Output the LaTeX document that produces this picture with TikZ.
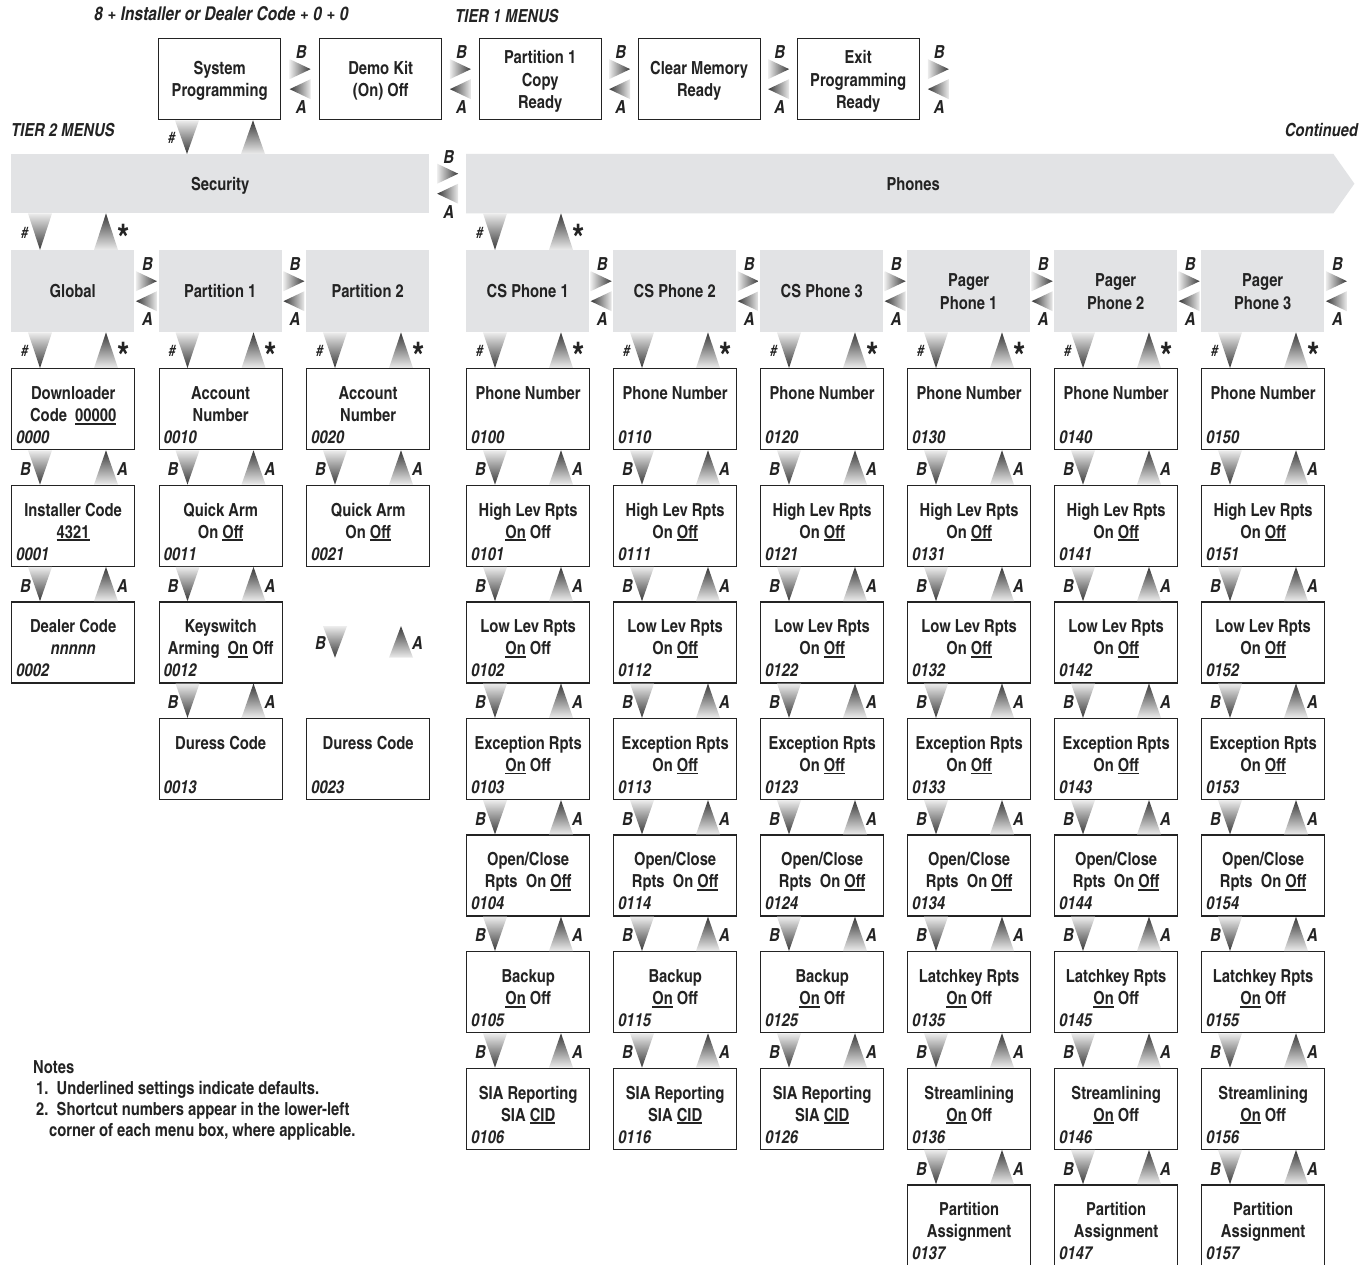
\documentclass[tikz,border=0pt]{standalone}
\usepackage{fontspec}
\IfFontExistsTF{texgyreheroscn-bold.otf}{%
\setmainfont{texgyreheroscn}[Extension=.otf, UprightFont=*-bold, ItalicFont=*-bolditalic, BoldFont=*-bold, BoldItalicFont=*-bolditalic]}{%
\setmainfont{TeX Gyre Heros}[UprightFont=* Bold, ItalicFont=* Bold Italic, FakeStretch=0.82]}
\usetikzlibrary{calc}
\definecolor{boxgray}{RGB}{226,227,229}
\definecolor{lite}{RGB}{236,236,236}
\definecolor{dark}{RGB}{55,55,55}
\definecolor{ink}{RGB}{35,35,35}
\newcounter{lc}
\newcommand\dflt[1]{\leavevmode\setbox0\hbox{#1}\rlap{\rule[-3pt]{\wd0}{1.7pt}}\box0\relax}
\newcommand\Lnode[3]{\stepcounter{lc}\node[#1] (L\arabic{lc}) at (#2) {#3};}
% detail box: name, x-left, row, line1, line2, code
\newcommand\dbox[6]{%
  \pgfmathsetmacro\yt{368+116.6*#3}%
  \node[dbox] (#1) at (#2,\yt) {};
  \node[txt] (#1-a) at ($(#1.north)+(0,31.5)$) {#4};
  \node[txt] (#1-b) at ($(#1.north)+(0,53.5)$) {#5};
  \node[code] (#1-c) at ($(#1.north west)+(5,75.5)$) {#6};
}
% vertical triangle pair: upper node, lower node, reference node for x
\newcommand\vtris[3]{%
  \coordinate (vdl) at ($(#3.south west)+(29,0)$);
  \coordinate (vdr) at ($(#3.south west)+(95,0)$);
  \coordinate (vt1) at (vdl |- #1.south);
  \coordinate (vb1) at (vdl |- #2.north);
  \coordinate (vt2) at (vdr |- #1.south);
  \coordinate (vb2) at (vdr |- #2.north);
  \shade[top color=lite, bottom color=dark] ($(vt1)+(-12,0)$) -- ($(vt1)+(12,0)$) -- (vb1) -- cycle;
  \shade[top color=dark, bottom color=lite] (vt2) -- ($(vb2)+(12,0)$) -- ($(vb2)+(-12,0)$) -- cycle;
  \coordinate (vm) at ($(vt1)!0.5!(vb1)$);
}
\newcommand\vBA[3]{\vtris{#1}{#2}{#3}%
  \Lnode{lab}{$(vm)+(-14.5,1.5)$}{B}
  \Lnode{lab}{$(vm)+(82.5,1.5)$}{A}}
\newcommand\vHS[3]{\vtris{#1}{#2}{#3}%
  \Lnode{hash}{$(vm)+(-15.5,1)$}{\#}
  \Lnode{star}{$(vm)+(83.5,6)$}{*}}
\newcommand\vH[3]{\vtris{#1}{#2}{#3}%
  \Lnode{hash}{$(vm)+(-15.5,1)$}{\#}}
% horizontal triangle pair between two points
\newcommand\hpair[2]{%
  \coordinate (hc) at ($#1!0.5!#2$);
  \shade[left color=lite, right color=dark] ($(hc)+(-10.5,-20)$) -- ($(hc)+(10.5,-10)$) -- ($(hc)+(-10.5,0)$) -- cycle;
  \shade[left color=dark, right color=lite] ($(hc)+(10.5,0)$) -- ($(hc)+(-10.5,10)$) -- ($(hc)+(10.5,20)$) -- cycle;
  \Lnode{lab}{$(hc)+(1,-27)$}{B}
  \Lnode{lab}{$(hc)+(1,28)$}{A}}
\begin{document}
\begin{tikzpicture}[x=1pt,y=-1pt,
  txt/.style={anchor=base, inner sep=0pt, font=\fontsize{18}{22}\selectfont, text=ink},
  code/.style={anchor=base west, inner sep=0pt, font=\fontsize{18}{22}\selectfont\itshape, text=ink},
  lab/.style={inner sep=0pt, font=\fontsize{18}{20}\selectfont\itshape, text=ink},
  hash/.style={inner sep=0pt, font=\fontsize{16}{18}\selectfont\itshape, text=ink},
  star/.style={inner sep=0pt, font=\fontsize{38}{38}\selectfont, text=ink},
  head/.style={anchor=base west, inner sep=0pt, font=\fontsize{19}{22}\selectfont\itshape, text=ink},
  note/.style={anchor=base west, inner sep=0pt, font=\fontsize{18}{21}\selectfont, text=ink},
  dbox/.style={draw=ink, line width=1.3pt, fill=white, minimum width=123pt, minimum height=81pt, anchor=north west, inner sep=0pt},
  tbox/.style={draw=ink, line width=1.3pt, fill=white, minimum width=122pt, minimum height=81pt, anchor=north west, inner sep=0pt},
  gbox/.style={fill=boxgray, minimum width=123pt, minimum height=82pt, anchor=north west, inner sep=0pt}]
\fill[white] (0,0) rectangle (1361,1265);
\useasboundingbox (0,0) rectangle (1361,1265);

% headings
\node[head] (hd0) at (94,21) {8 + Installer or Dealer Code + 0 + 0};
\node[head, font=\fontsize{18}{22}\selectfont\itshape] (hd1) at (455,23) {TIER 1 MENUS};
\node[head, font=\fontsize{18}{22}\selectfont\itshape] (hd2) at (11,137) {TIER 2 MENUS};
\node[head, anchor=base east, font=\fontsize{18}{22}\selectfont\itshape] (hd3) at (1358,137) {Continued};

% tier 1
\node[tbox] (sysprog) at (158,38) {};
\node[tbox] (demo) at (319,38) {};
\node[tbox] (p1copy) at (478.5,38) {};
\node[tbox] (clrmem) at (637.5,38) {};
\node[tbox] (exitp) at (796.5,38) {};
\node[txt] (sp1) at ($(sysprog.north)+(0,37)$) {System};
\node[txt] (sp2) at ($(sysprog.north)+(0,59)$) {Programming};
\node[txt] (dk1) at ($(demo.north)+(0,37)$) {Demo Kit};
\node[txt] (dk2) at ($(demo.north)+(0,59)$) {(On) Off};
\node[txt] (pc1) at ($(p1copy.north)+(0,25.5)$) {Partition 1};
\node[txt] (pc2) at ($(p1copy.north)+(0,48.5)$) {Copy};
\node[txt] (pc3) at ($(p1copy.north)+(0,70.5)$) {Ready};
\node[txt] (cm1) at ($(clrmem.north)+(0,37)$) {Clear Memory};
\node[txt] (cm2) at ($(clrmem.north)+(0,59)$) {Ready};
\node[txt] (ep1) at ($(exitp.north)+(0,25.5)$) {Exit};
\node[txt] (ep2) at ($(exitp.north)+(0,48.5)$) {Programming};
\node[txt] (ep3) at ($(exitp.north)+(0,70.5)$) {Ready};
\hpair{(sysprog.east)}{(demo.west)}
\hpair{(demo.east)}{(p1copy.west)}
\hpair{(p1copy.east)}{(clrmem.west)}
\hpair{(clrmem.east)}{(exitp.west)}
\coordinate (t1end) at ($(exitp.east)+(37,0)$);
\hpair{(exitp.east)}{(t1end)}

% tier 2 bars
\node[fill=boxgray, minimum width=418pt, minimum height=59pt, anchor=north west, inner sep=0pt] (sec) at (11,154) {};
\node[txt] (sectx) at ($(sec.center)+(0,6.5)$) {Security};
\node[minimum width=867pt, minimum height=59pt, anchor=north west, inner sep=0pt] (pho) at (466,154) {};
\fill[boxgray] (pho.north west) -- (pho.north east) -- ($(pho.east)+(21,0)$) -- (pho.south east) -- (pho.south west) -- cycle;
\node[txt] (photx) at ($(pho.center)+(13.5,6.5)$) {Phones};
\hpair{(sec.east)}{(pho.west)}
\vH{sysprog}{sec}{sysprog}

% tier 2 boxes
\foreach \c/\xl in {0/11,1/158.5,2/306,3/466,4/613,5/760,6/907,7/1054,8/1201}
  \node[gbox] (t\c) at (\xl,250) {};
\node[txt] (tx0) at ($(t0.north)+(0,47.5)$) {Global};
\node[txt] (tx1) at ($(t1.north)+(0,47.5)$) {Partition 1};
\node[txt] (tx2) at ($(t2.north)+(0,47.5)$) {Partition 2};
\node[txt] (tx3) at ($(t3.north)+(0,47.5)$) {CS Phone 1};
\node[txt] (tx4) at ($(t4.north)+(0,47.5)$) {CS Phone 2};
\node[txt] (tx5) at ($(t5.north)+(0,47.5)$) {CS Phone 3};
\foreach \c/\k in {6/1,7/2,8/3}{
  \node[txt] (txa\c) at ($(t\c.north)+(0,36.5)$) {Pager};
  \node[txt] (txb\c) at ($(t\c.north)+(0,59.5)$) {Phone \k};
}
\vHS{sec}{t0}{t0}
\vHS{pho}{t3}{t3}
\hpair{(t0.east)}{(t1.west)}
\hpair{(t1.east)}{(t2.west)}
\hpair{(t3.east)}{(t4.west)}
\hpair{(t4.east)}{(t5.west)}
\hpair{(t5.east)}{(t6.west)}
\hpair{(t6.east)}{(t7.west)}
\hpair{(t7.east)}{(t8.west)}
\coordinate (t2end) at ($(t8.east)+(24,0)$);
\hpair{(t8.east)}{(t2end)}

% Global column
\dbox{n0-0}{11}{0}{Downloader}{Code\ \ \dflt{00000}}{0000}
\dbox{n0-1}{11}{1}{Installer Code}{\dflt{4321}}{0001}
\dbox{n0-2}{11}{2}{Dealer Code}{\textit{nnnnn}}{0002}
\vHS{t0}{n0-0}{t0}
\vBA{n0-0}{n0-1}{n0-0}
\vBA{n0-1}{n0-2}{n0-1}

% Partition 1 column
\dbox{n1-0}{158.5}{0}{Account}{Number}{0010}
\dbox{n1-1}{158.5}{1}{Quick Arm}{On \dflt{Off}}{0011}
\dbox{n1-2}{158.5}{2}{Keyswitch}{Arming\ \ \dflt{On} Off}{0012}
\dbox{n1-3}{158.5}{3}{Duress Code}{}{0013}
\vHS{t1}{n1-0}{t1}
\vBA{n1-0}{n1-1}{n1-0}
\vBA{n1-1}{n1-2}{n1-1}
\vBA{n1-2}{n1-3}{n1-2}

% Partition 2 column
\dbox{n2-0}{306}{0}{Account}{Number}{0020}
\dbox{n2-1}{306}{1}{Quick Arm}{On \dflt{Off}}{0021}
\dbox{n2-3}{306}{3}{Duress Code}{}{0023}
\vHS{t2}{n2-0}{t2}
\vBA{n2-0}{n2-1}{n2-0}
\node[inner sep=0pt, minimum size=0pt] (p2top) at ($(n2-1.south west)+(0,59)$) {};
\node[inner sep=0pt, minimum size=0pt] (p2bot) at ($(n2-1.south west)+(0,91)$) {};
\vBA{p2top}{p2bot}{n2-1}

% CS phones
\foreach \c/\xl/\d in {3/466/10,4/613/11,5/760/12}{
  \ifnum\c=3 \def\hl{\dflt{On} Off}\else\def\hl{On \dflt{Off}}\fi
  \dbox{n\c-0}{\xl}{0}{Phone Number}{}{0\d0}
  \dbox{n\c-1}{\xl}{1}{High Lev Rpts}{\hl}{0\d1}
  \dbox{n\c-2}{\xl}{2}{Low Lev Rpts}{\hl}{0\d2}
  \dbox{n\c-3}{\xl}{3}{Exception Rpts}{\hl}{0\d3}
  \dbox{n\c-4}{\xl}{4}{Open/Close}{Rpts\ \ On \dflt{Off}}{0\d4}
  \dbox{n\c-5}{\xl}{5}{Backup}{\dflt{On} Off}{0\d5}
  \dbox{n\c-6}{\xl}{6}{SIA Reporting}{SIA \dflt{CID}}{0\d6}
  \vHS{t\c}{n\c-0}{t\c}
  \foreach \r [evaluate=\r as \s using int(\r+1)] in {0,...,5}
    {\vBA{n\c-\r}{n\c-\s}{n\c-\r}}
}

% Pager phones
\foreach \c/\xl/\d in {6/907/13,7/1054/14,8/1201/15}{
  \dbox{n\c-0}{\xl}{0}{Phone Number}{}{0\d0}
  \dbox{n\c-1}{\xl}{1}{High Lev Rpts}{On \dflt{Off}}{0\d1}
  \dbox{n\c-2}{\xl}{2}{Low Lev Rpts}{On \dflt{Off}}{0\d2}
  \dbox{n\c-3}{\xl}{3}{Exception Rpts}{On \dflt{Off}}{0\d3}
  \dbox{n\c-4}{\xl}{4}{Open/Close}{Rpts\ \ On \dflt{Off}}{0\d4}
  \dbox{n\c-5}{\xl}{5}{Latchkey Rpts}{\dflt{On} Off}{0\d5}
  \dbox{n\c-6}{\xl}{6}{Streamlining}{\dflt{On} Off}{0\d6}
  \dbox{n\c-7}{\xl}{7}{Partition}{Assignment}{0\d7}
  \vHS{t\c}{n\c-0}{t\c}
  \foreach \r [evaluate=\r as \s using int(\r+1)] in {0,...,6}
    {\vBA{n\c-\r}{n\c-\s}{n\c-\r}}
}

% notes
\node[note] (nt0) at (33,1073) {Notes};
\node[note] (nt1) at (36,1094) {1.\ \ Underlined settings indicate defaults.};
\node[note] (nt2) at (36,1115) {2.\ \ Shortcut numbers appear in the lower-left};
\node[note] (nt3) at (49,1136) {corner of each menu box, where applicable.};
\end{tikzpicture}
\end{document}
